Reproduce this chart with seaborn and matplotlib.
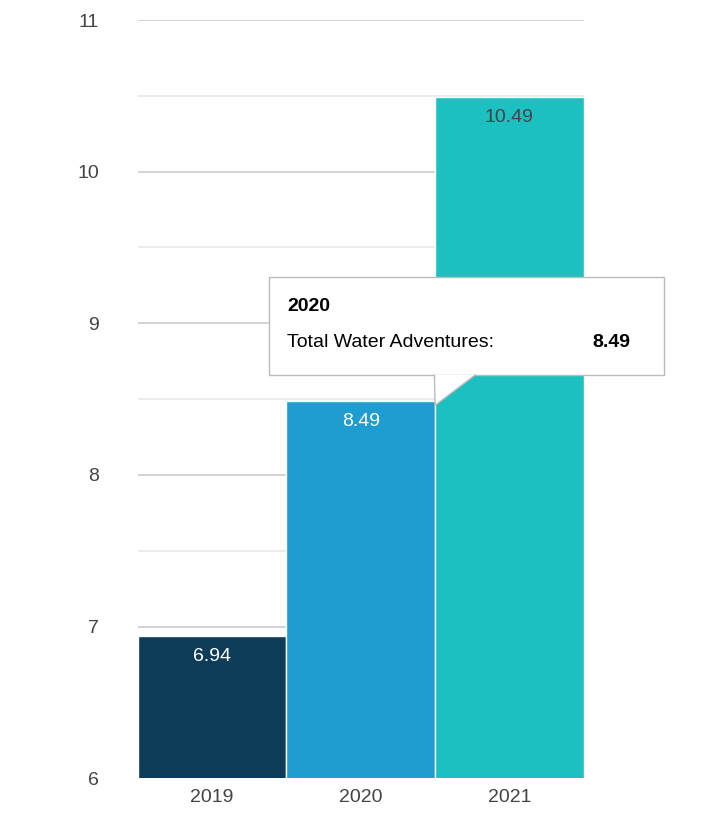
"""Bar chart of total water adventures by year, with tooltip."""

import matplotlib
import pandas as pd
import seaborn as sns
from matplotlib.patches import FancyBboxPatch, Polygon

matplotlib.use("Agg")
import matplotlib.pyplot as plt

years = ["2019", "2020", "2021"]
values = [6.94, 8.49, 10.49]
colors = ["#003f63", "#00aaee", "#00dcdc"]
label_colors = ["white", "white", "#444444"]

df = pd.DataFrame({"year": years, "value": values})

sns.set_style("white")
plt.rcParams["font.family"] = ["Liberation Sans", "DejaVu Sans"]

fig = plt.figure(figsize=(7.18, 8.34), dpi=100)
ax = fig.add_axes([0.192, 0.067, 0.621, 0.909])
sns.barplot(data=df, x="year", y="value", hue="year", palette=colors,
            width=1.0, dodge=False, legend=False, ax=ax, zorder=2)

ax.set_ylim(6, 11)
ax.set_xlim(-0.5, 2.5)
ax.set_yticks([6, 7, 8, 9, 10, 11])
ax.set_yticks([6.5, 7.5, 8.5, 9.5, 10.5], minor=True)
ax.grid(axis="y", which="major", color="#cccccc", linewidth=1.2, zorder=0)
ax.grid(axis="y", which="minor", color="#e8e8e8", linewidth=1.2, zorder=0)
ax.set_axisbelow(True)
for s in ax.spines.values():
    s.set_visible(False)
ax.tick_params(axis="y", which="both", length=0, pad=28, labelsize=14, labelcolor="#444444")
ax.tick_params(axis="x", length=0, pad=8, labelsize=14, labelcolor="#444444")
ax.set_xlabel("")
ax.set_ylabel("")

for i, v in enumerate(values):
    ax.text(i, v - 0.08, f"{v:.2f}", ha="center", va="top", fontsize=14,
            color=label_colors[i], zorder=3)

# tooltip for 2020
box = FancyBboxPatch((0.375, 0.55), 0.55, 0.118, transform=fig.transFigure,
                     boxstyle="square,pad=0", facecolor="white",
                     edgecolor="#bbbbbb", linewidth=1.0, zorder=5)
fig.patches.append(box)
tri = Polygon([(0.605, 0.5505), (0.662, 0.5505), (0.606, 0.514)],
              closed=True, transform=fig.transFigure, facecolor="white",
              edgecolor="none", zorder=6)
fig.patches.append(tri)
fig.lines.append(plt.Line2D([0.605, 0.606, 0.662], [0.5505, 0.514, 0.5505],
                            transform=fig.transFigure, color="#bbbbbb", linewidth=1.0, zorder=7))
fig.text(0.400, 0.633, "2020", fontsize=14, fontweight="bold", color="black", va="center", zorder=8)
fig.text(0.400, 0.589, "Total Water Adventures: ", fontsize=14, color="black", va="center", zorder=8)
fig.text(0.825, 0.589, "8.49", fontsize=14, fontweight="bold", color="black", va="center", zorder=8)

fig.savefig("out.png", dpi=100)
plt.close(fig)
